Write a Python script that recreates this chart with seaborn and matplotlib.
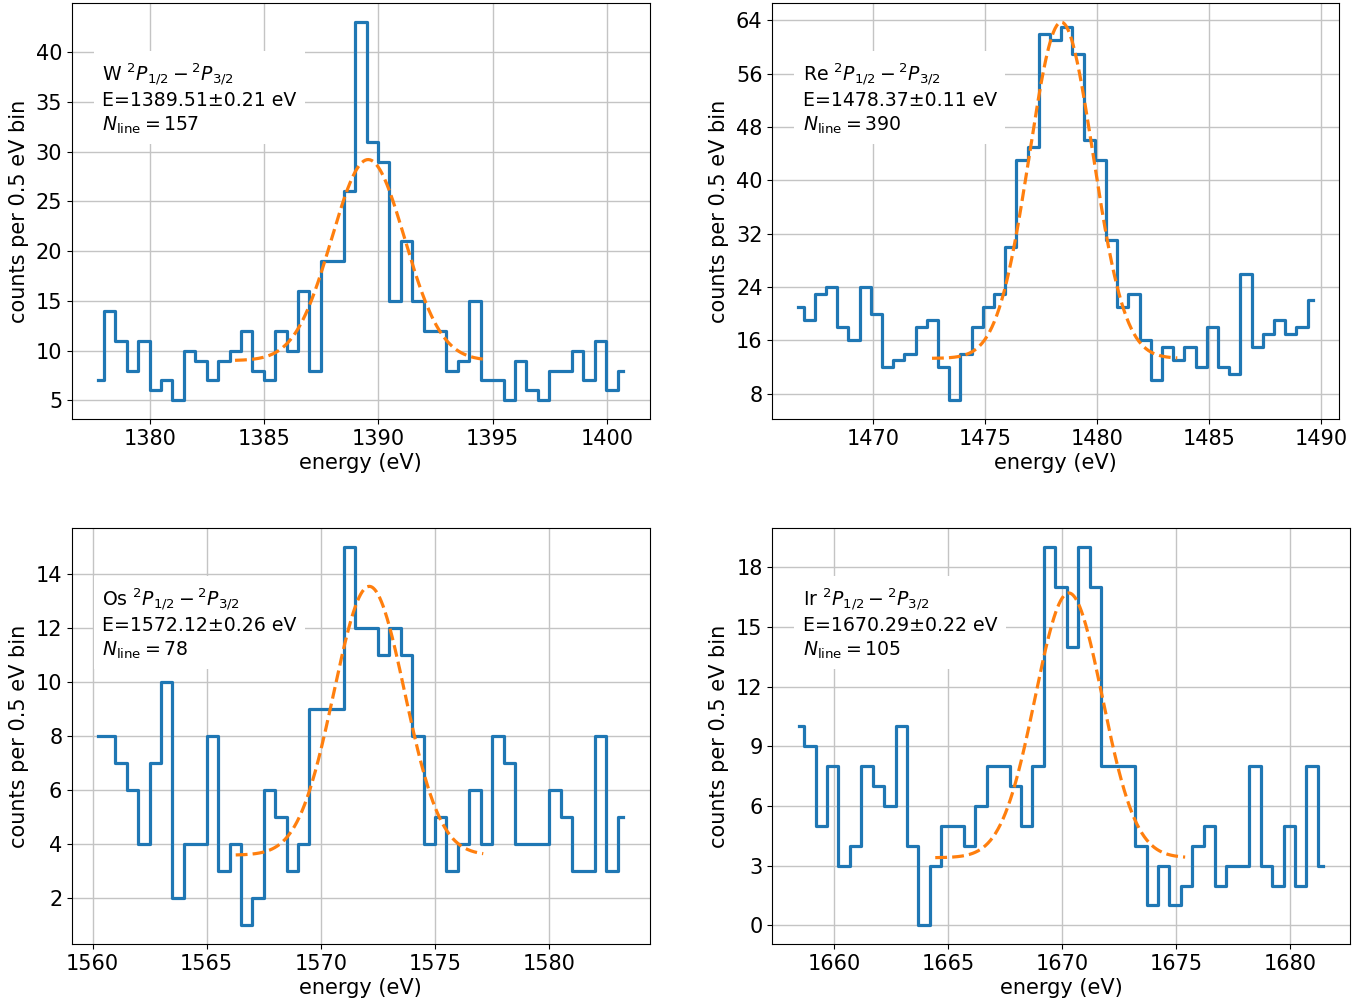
"""Four-panel 2P1/2 - 2P3/2 line spectra (W, Re, Os, Ir) with Gaussian fits."""

import matplotlib

matplotlib.use("Agg")
import matplotlib.pyplot as plt
import numpy as np
import pandas as pd
import seaborn as sns
from matplotlib.ticker import MultipleLocator

BIN_WIDTH = 0.5

# first bin centre of each spectrum (eV); 47 bins of 0.5 eV each
W_START = 1377.73
RE_START = 1466.65
OS_START = 1560.25
IR_START = 1658.45

W_COUNTS = [7, 14, 11, 8, 11, 6, 7, 5, 10, 9, 7, 9, 10, 12, 8, 7, 12, 10, 16, 8,
            19, 19, 26, 43, 31, 29, 15, 21, 15, 12, 12, 8, 9, 15, 7, 7, 5, 9, 6, 5,
            8, 8, 10, 7, 11, 6, 8]
RE_COUNTS = [21, 19, 23, 24, 18, 16, 24, 20, 12, 13, 14, 18, 19, 12, 7, 14, 18, 21, 23, 30,
             43, 45, 62, 61, 63, 59, 46, 43, 31, 21, 23, 16, 10, 15, 13, 15, 12, 18, 12, 11,
             26, 15, 17, 19, 17, 18, 22]
OS_COUNTS = [8, 8, 7, 6, 4, 7, 10, 2, 4, 4, 8, 3, 4, 1, 2, 6, 5, 3, 4, 9,
             9, 9, 15, 12, 12, 11, 12, 11, 8, 4, 5, 3, 4, 6, 4, 8, 7, 4, 4, 4,
             6, 5, 3, 3, 8, 3, 5]
IR_COUNTS = [10, 9, 5, 8, 3, 4, 8, 7, 6, 10, 4, 0, 3, 5, 5, 4, 6, 8, 8, 7,
             5, 8, 19, 17, 14, 19, 17, 8, 8, 8, 4, 1, 3, 1, 2, 4, 5, 2, 3, 3,
             8, 3, 2, 5, 2, 8, 3]

ELEMENTS = ["W", "Re", "Os", "Ir"]
LINE_E = ["1389.51", "1478.37", "1572.12", "1670.29"]
LINE_ERR = ["0.21", "0.11", "0.26", "0.22"]
N_LINE = [157, 390, 78, 105]

# Gaussian + flat background fit: centre, amplitude, sigma, background, fit range
FIT_CENTER = [1389.55, 1478.40, 1572.12, 1670.29]
FIT_AMP = [20.2, 50.4, 9.95, 13.3]
FIT_SIGMA = [1.6, 1.42, 1.55, 1.47]
FIT_BKG = [9.0, 13.3, 3.6, 3.4]
FIT_LO = [1383.72, 1472.63, 1566.27, 1664.44]
FIT_HI = [1394.71, 1483.58, 1577.11, 1675.39]

Y_STEP = [5, 8, 2, 3]

plt.rcParams["font.family"] = ["DejaVu Sans"]
plt.rcParams["font.size"] = 15

fig = plt.figure(figsize=(13.67, 10.06), dpi=100)
W, H = 1367, 1006
# axes boxes in pixels: left, right, top, bottom
boxes = [(72, 649.7, 3.3, 419.3), (772.3, 1339, 3.3, 419.3),
         (72, 649.7, 528.3, 944.3), (772.3, 1349.7, 528.3, 944.3)]

starts = [W_START, RE_START, OS_START, IR_START]
counts = [W_COUNTS, RE_COUNTS, OS_COUNTS, IR_COUNTS]

for i, (l, r, t, b) in enumerate(boxes):
    ax = fig.add_axes([l / W, 1 - b / H, (r - l) / W, (b - t) / H])
    ax.set_axisbelow(True)
    ax.grid(True, color="#c4c4c4", lw=1.0)

    energy = starts[i] + BIN_WIDTH * np.arange(len(counts[i]))
    df = pd.DataFrame({"energy": energy, "counts": counts[i]})
    sns.lineplot(data=df, x="energy", y="counts", drawstyle="steps-mid",
                 color="#1f77b4", lw=2.3, ax=ax)

    ef = np.linspace(FIT_LO[i], FIT_HI[i], 300)
    fit = FIT_BKG[i] + FIT_AMP[i] * np.exp(-0.5 * ((ef - FIT_CENTER[i]) / FIT_SIGMA[i]) ** 2)
    sns.lineplot(x=ef, y=fit, color="#ff7f0e", lw=2.3, linestyle="--", ax=ax)

    ax.yaxis.set_major_locator(MultipleLocator(Y_STEP[i]))
    ax.xaxis.set_major_locator(MultipleLocator(5))
    ax.set_xlabel("energy (eV)", labelpad=3)
    ax.set_ylabel("counts per 0.5 eV bin", labelpad=5)

    label = (rf"{ELEMENTS[i]} $^2P_{{1/2}}-{{}}^2P_{{3/2}}$" + "\n"
             + f"E={LINE_E[i]}\u00b1{LINE_ERR[i]} eV" + "\n"
             + rf"$N_\mathrm{{line}}={N_LINE[i]}$")
    ax.annotate(label, xy=(0, 1), xycoords="axes fraction",
                xytext=(30.5, -58), textcoords="offset pixels",
                ha="left", va="top", fontsize=13.6, linespacing=1.25,
                bbox=dict(boxstyle="square,pad=0.45", fc="white", ec="none"))

fig.savefig("out.png", dpi=100)
